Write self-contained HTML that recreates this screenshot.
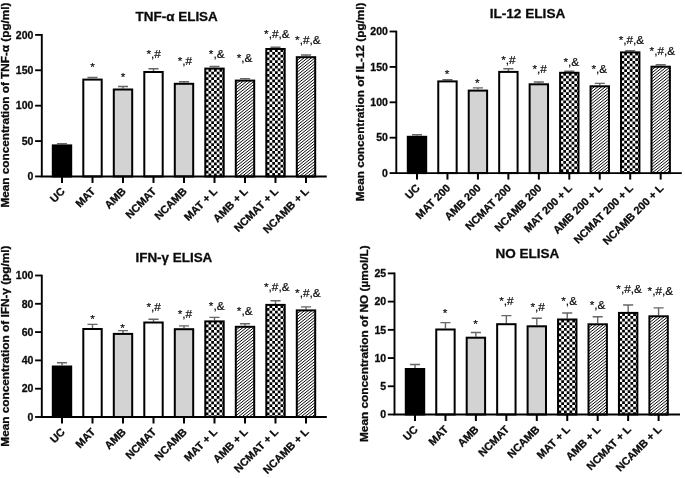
<!DOCTYPE html>
<html><head><meta charset="utf-8"><title>ELISA</title>
<style>
html,body{margin:0;padding:0;background:#fff;}
svg{display:block;font-family:"Liberation Sans",sans-serif;will-change:transform;}
text{fill:#0a0a0a;}
text[font-weight=bold]{stroke:#111;stroke-width:0.3px;}
</style></head><body>
<svg width="685" height="478" viewBox="0 0 685 478">

<rect width="685" height="478" fill="#fff"/>

<g>
<text x="176.7" y="21.3" font-size="13.6" font-weight="bold" text-anchor="middle" textLength="82.2" lengthAdjust="spacingAndGlyphs">TNF-α ELISA</text>
<text transform="translate(8.7,207.5) rotate(-90)" font-size="11" font-weight="bold" textLength="205" lengthAdjust="spacingAndGlyphs">Mean concentration of TNF-α (pg/ml)</text>
<path d="M62.00,144.40 V143.40 M56.95,143.60 H67.05" stroke="#666" stroke-width="1.4" fill="none"/>
<g transform="translate(51.80,144.40)"><rect x="1.00" y="1.00" width="18.40" height="31.05" fill="#000" stroke="#000" stroke-width="2.0"/></g>
<path d="M62.00,176.45 V182.95" stroke="#000" stroke-width="2"/>
<text transform="translate(65.50,192.05) rotate(-45)" font-size="10.85" font-weight="bold" text-anchor="end">UC</text>
<path d="M92.50,78.60 V77.30 M87.45,77.50 H97.55" stroke="#666" stroke-width="1.4" fill="none"/>
<g transform="translate(82.30,78.60)"><rect x="1.00" y="1.00" width="18.40" height="96.85" fill="#fff" stroke="#000" stroke-width="2.0"/></g>
<path d="M92.50,176.45 V182.95" stroke="#000" stroke-width="2"/>
<text transform="translate(96.00,192.05) rotate(-45)" font-size="10.85" font-weight="bold" text-anchor="end">MAT</text>
<text x="92.50" y="70.50" font-size="11.8" stroke="#111" stroke-width="0.2" text-anchor="middle">*</text>
<path d="M123.00,88.50 V86.30 M117.95,86.50 H128.05" stroke="#666" stroke-width="1.4" fill="none"/>
<g transform="translate(112.80,88.50)"><rect x="1.00" y="1.00" width="18.40" height="86.95" fill="#d3d3d3" stroke="#000" stroke-width="2.0"/></g>
<path d="M123.00,176.45 V182.95" stroke="#000" stroke-width="2"/>
<text transform="translate(126.50,192.05) rotate(-45)" font-size="10.85" font-weight="bold" text-anchor="end">AMB</text>
<text x="123.00" y="81.00" font-size="11.8" stroke="#111" stroke-width="0.2" text-anchor="middle">*</text>
<path d="M153.50,71.00 V68.50 M148.45,68.70 H158.55" stroke="#666" stroke-width="1.4" fill="none"/>
<g transform="translate(143.30,71.00)"><rect x="1.00" y="1.00" width="18.40" height="104.45" fill="#fff" stroke="#000" stroke-width="2.0"/></g>
<path d="M153.50,176.45 V182.95" stroke="#000" stroke-width="2"/>
<text transform="translate(157.00,192.05) rotate(-45)" font-size="10.85" font-weight="bold" text-anchor="end">NCMAT</text>
<text x="153.70" y="58.10" font-size="11.8" stroke="#111" stroke-width="0.2" text-anchor="middle">*,#</text>
<path d="M184.00,82.80 V81.50 M178.95,81.70 H189.05" stroke="#666" stroke-width="1.4" fill="none"/>
<g transform="translate(173.80,82.80)"><rect x="1.00" y="1.00" width="18.40" height="92.65" fill="#d3d3d3" stroke="#000" stroke-width="2.0"/></g>
<path d="M184.00,176.45 V182.95" stroke="#000" stroke-width="2"/>
<text transform="translate(187.50,192.05) rotate(-45)" font-size="10.85" font-weight="bold" text-anchor="end">NCAMB</text>
<text x="184.90" y="64.70" font-size="11.8" stroke="#111" stroke-width="0.2" text-anchor="middle">*,#</text>
<path d="M214.50,67.60 V66.25 M209.45,66.45 H219.55" stroke="#666" stroke-width="1.4" fill="none"/>
<g transform="translate(204.30,67.60)"><clipPath id="c0_5"><rect x="1.00" y="1.00" width="18.40" height="108.85"/></clipPath><rect x="1.00" y="1.00" width="18.40" height="107.85" fill="#fff"/><path d="M0.075,-4.200 V108.85" stroke="#000" stroke-width="2.75" stroke-dasharray="2.75 2.75" clip-path="url(#c0_5)"/><path d="M2.825,-1.450 V108.85" stroke="#000" stroke-width="2.75" stroke-dasharray="2.75 2.75" clip-path="url(#c0_5)"/><path d="M5.575,-4.200 V108.85" stroke="#000" stroke-width="2.75" stroke-dasharray="2.75 2.75" clip-path="url(#c0_5)"/><path d="M8.325,-1.450 V108.85" stroke="#000" stroke-width="2.75" stroke-dasharray="2.75 2.75" clip-path="url(#c0_5)"/><path d="M11.075,-4.200 V108.85" stroke="#000" stroke-width="2.75" stroke-dasharray="2.75 2.75" clip-path="url(#c0_5)"/><path d="M13.825,-1.450 V108.85" stroke="#000" stroke-width="2.75" stroke-dasharray="2.75 2.75" clip-path="url(#c0_5)"/><path d="M16.575,-4.200 V108.85" stroke="#000" stroke-width="2.75" stroke-dasharray="2.75 2.75" clip-path="url(#c0_5)"/><path d="M19.325,-1.450 V108.85" stroke="#000" stroke-width="2.75" stroke-dasharray="2.75 2.75" clip-path="url(#c0_5)"/><rect x="1.00" y="1.00" width="18.40" height="107.85" fill="none" stroke="#000" stroke-width="2.0"/></g>
<path d="M214.50,176.45 V182.95" stroke="#000" stroke-width="2"/>
<text transform="translate(218.00,192.05) rotate(-45)" font-size="10.85" font-weight="bold" text-anchor="end">MAT + L</text>
<text x="216.70" y="57.50" font-size="11.8" stroke="#111" stroke-width="0.2" text-anchor="middle">*,&</text>
<path d="M245.00,79.60 V78.40 M239.95,78.60 H250.05" stroke="#666" stroke-width="1.4" fill="none"/>
<g transform="translate(234.80,79.60)"><clipPath id="c0_6"><rect x="1.00" y="1.00" width="18.40" height="96.85"/></clipPath><rect x="1.00" y="1.00" width="18.40" height="95.85" fill="#fff"/><path d="M-1,0.18 L21.40,-17.74 M-1,3.13 L21.40,-14.79 M-1,6.08 L21.40,-11.84 M-1,9.03 L21.40,-8.89 M-1,11.98 L21.40,-5.94 M-1,14.93 L21.40,-2.99 M-1,17.88 L21.40,-0.04 M-1,20.83 L21.40,2.91 M-1,23.78 L21.40,5.86 M-1,26.73 L21.40,8.81 M-1,29.68 L21.40,11.76 M-1,32.63 L21.40,14.71 M-1,35.58 L21.40,17.66 M-1,38.53 L21.40,20.61 M-1,41.48 L21.40,23.56 M-1,44.43 L21.40,26.51 M-1,47.38 L21.40,29.46 M-1,50.33 L21.40,32.41 M-1,53.28 L21.40,35.36 M-1,56.23 L21.40,38.31 M-1,59.18 L21.40,41.26 M-1,62.13 L21.40,44.21 M-1,65.08 L21.40,47.16 M-1,68.03 L21.40,50.11 M-1,70.98 L21.40,53.06 M-1,73.93 L21.40,56.01 M-1,76.88 L21.40,58.96 M-1,79.83 L21.40,61.91 M-1,82.78 L21.40,64.86 M-1,85.73 L21.40,67.81 M-1,88.68 L21.40,70.76 M-1,91.63 L21.40,73.71 M-1,94.58 L21.40,76.66 M-1,97.53 L21.40,79.61 M-1,100.48 L21.40,82.56 M-1,103.43 L21.40,85.51 M-1,106.38 L21.40,88.46 M-1,109.33 L21.40,91.41 M-1,112.28 L21.40,94.36 M-1,115.23 L21.40,97.31" stroke="#000" stroke-width="0.97" fill="none" clip-path="url(#c0_6)"/><rect x="1.00" y="1.00" width="18.40" height="95.85" fill="none" stroke="#000" stroke-width="2.0"/></g>
<path d="M245.00,176.45 V182.95" stroke="#000" stroke-width="2"/>
<text transform="translate(248.50,192.05) rotate(-45)" font-size="10.85" font-weight="bold" text-anchor="end">AMB + L</text>
<text x="244.50" y="61.50" font-size="11.8" stroke="#111" stroke-width="0.2" text-anchor="middle">*,&</text>
<path d="M275.50,48.00 V47.00 M270.45,47.20 H280.55" stroke="#666" stroke-width="1.4" fill="none"/>
<g transform="translate(265.30,48.00)"><clipPath id="c0_7"><rect x="1.00" y="1.00" width="18.40" height="128.45"/></clipPath><rect x="1.00" y="1.00" width="18.40" height="127.45" fill="#fff"/><path d="M0.075,-4.200 V128.45" stroke="#000" stroke-width="2.75" stroke-dasharray="2.75 2.75" clip-path="url(#c0_7)"/><path d="M2.825,-1.450 V128.45" stroke="#000" stroke-width="2.75" stroke-dasharray="2.75 2.75" clip-path="url(#c0_7)"/><path d="M5.575,-4.200 V128.45" stroke="#000" stroke-width="2.75" stroke-dasharray="2.75 2.75" clip-path="url(#c0_7)"/><path d="M8.325,-1.450 V128.45" stroke="#000" stroke-width="2.75" stroke-dasharray="2.75 2.75" clip-path="url(#c0_7)"/><path d="M11.075,-4.200 V128.45" stroke="#000" stroke-width="2.75" stroke-dasharray="2.75 2.75" clip-path="url(#c0_7)"/><path d="M13.825,-1.450 V128.45" stroke="#000" stroke-width="2.75" stroke-dasharray="2.75 2.75" clip-path="url(#c0_7)"/><path d="M16.575,-4.200 V128.45" stroke="#000" stroke-width="2.75" stroke-dasharray="2.75 2.75" clip-path="url(#c0_7)"/><path d="M19.325,-1.450 V128.45" stroke="#000" stroke-width="2.75" stroke-dasharray="2.75 2.75" clip-path="url(#c0_7)"/><rect x="1.00" y="1.00" width="18.40" height="127.45" fill="none" stroke="#000" stroke-width="2.0"/></g>
<path d="M275.50,176.45 V182.95" stroke="#000" stroke-width="2"/>
<text transform="translate(279.00,192.05) rotate(-45)" font-size="10.85" font-weight="bold" text-anchor="end">NCMAT + L</text>
<text x="276.90" y="37.50" font-size="11.8" stroke="#111" stroke-width="0.2" text-anchor="middle">*,#,&</text>
<path d="M306.00,56.20 V54.80 M300.95,55.00 H311.05" stroke="#666" stroke-width="1.4" fill="none"/>
<g transform="translate(295.80,56.20)"><clipPath id="c0_8"><rect x="1.00" y="1.00" width="18.40" height="120.25"/></clipPath><rect x="1.00" y="1.00" width="18.40" height="119.25" fill="#fff"/><path d="M-1,0.18 L21.40,-17.74 M-1,3.13 L21.40,-14.79 M-1,6.08 L21.40,-11.84 M-1,9.03 L21.40,-8.89 M-1,11.98 L21.40,-5.94 M-1,14.93 L21.40,-2.99 M-1,17.88 L21.40,-0.04 M-1,20.83 L21.40,2.91 M-1,23.78 L21.40,5.86 M-1,26.73 L21.40,8.81 M-1,29.68 L21.40,11.76 M-1,32.63 L21.40,14.71 M-1,35.58 L21.40,17.66 M-1,38.53 L21.40,20.61 M-1,41.48 L21.40,23.56 M-1,44.43 L21.40,26.51 M-1,47.38 L21.40,29.46 M-1,50.33 L21.40,32.41 M-1,53.28 L21.40,35.36 M-1,56.23 L21.40,38.31 M-1,59.18 L21.40,41.26 M-1,62.13 L21.40,44.21 M-1,65.08 L21.40,47.16 M-1,68.03 L21.40,50.11 M-1,70.98 L21.40,53.06 M-1,73.93 L21.40,56.01 M-1,76.88 L21.40,58.96 M-1,79.83 L21.40,61.91 M-1,82.78 L21.40,64.86 M-1,85.73 L21.40,67.81 M-1,88.68 L21.40,70.76 M-1,91.63 L21.40,73.71 M-1,94.58 L21.40,76.66 M-1,97.53 L21.40,79.61 M-1,100.48 L21.40,82.56 M-1,103.43 L21.40,85.51 M-1,106.38 L21.40,88.46 M-1,109.33 L21.40,91.41 M-1,112.28 L21.40,94.36 M-1,115.23 L21.40,97.31 M-1,118.18 L21.40,100.26 M-1,121.13 L21.40,103.21 M-1,124.08 L21.40,106.16 M-1,127.03 L21.40,109.11 M-1,129.98 L21.40,112.06 M-1,132.93 L21.40,115.01 M-1,135.88 L21.40,117.96 M-1,138.83 L21.40,120.91" stroke="#000" stroke-width="0.97" fill="none" clip-path="url(#c0_8)"/><rect x="1.00" y="1.00" width="18.40" height="119.25" fill="none" stroke="#000" stroke-width="2.0"/></g>
<path d="M306.00,176.45 V182.95" stroke="#000" stroke-width="2"/>
<text transform="translate(309.50,192.05) rotate(-45)" font-size="10.85" font-weight="bold" text-anchor="end">NCAMB + L</text>
<text x="307.90" y="44.40" font-size="11.8" stroke="#111" stroke-width="0.2" text-anchor="middle">*,#,&</text>
<path d="M41.8,34.09 V176.45 H326.8" stroke="#000" stroke-width="1.9" fill="none" stroke-linejoin="miter"/>
<path d="M35.10,176.45 H41.8" stroke="#000" stroke-width="1.85"/>
<text x="33.40" y="180.21" font-size="10.5" font-weight="bold" text-anchor="end">0</text>
<path d="M35.10,141.06 H41.8" stroke="#000" stroke-width="1.85"/>
<text x="33.40" y="144.82" font-size="10.5" font-weight="bold" text-anchor="end">50</text>
<path d="M35.10,105.67 H41.8" stroke="#000" stroke-width="1.85"/>
<text x="33.40" y="109.43" font-size="10.5" font-weight="bold" text-anchor="end">100</text>
<path d="M35.10,70.28 H41.8" stroke="#000" stroke-width="1.85"/>
<text x="33.40" y="74.04" font-size="10.5" font-weight="bold" text-anchor="end">150</text>
<path d="M35.10,34.89 H41.8" stroke="#000" stroke-width="1.85"/>
<text x="33.40" y="38.65" font-size="10.5" font-weight="bold" text-anchor="end">200</text>
</g>
<g>
<text x="527.5" y="17.9" font-size="13.6" font-weight="bold" text-anchor="middle" textLength="75.6" lengthAdjust="spacingAndGlyphs">IL-12 ELISA</text>
<text transform="translate(363.7,201.2) rotate(-90)" font-size="11" font-weight="bold" textLength="198.7" lengthAdjust="spacingAndGlyphs">Mean concentration of IL-12 (pg/ml)</text>
<path d="M417.00,135.80 V134.60 M411.95,134.80 H422.05" stroke="#666" stroke-width="1.4" fill="none"/>
<g transform="translate(406.80,135.80)"><rect x="1.00" y="1.00" width="18.40" height="36.30" fill="#000" stroke="#000" stroke-width="2.0"/></g>
<path d="M417.00,173.10 V179.60" stroke="#000" stroke-width="2"/>
<text transform="translate(420.50,188.70) rotate(-45)" font-size="10.85" font-weight="bold" text-anchor="end">UC</text>
<path d="M447.46,80.40 V79.50 M442.41,79.70 H452.51" stroke="#666" stroke-width="1.4" fill="none"/>
<g transform="translate(437.26,80.40)"><rect x="1.00" y="1.00" width="18.40" height="91.70" fill="#fff" stroke="#000" stroke-width="2.0"/></g>
<path d="M447.46,173.10 V179.60" stroke="#000" stroke-width="2"/>
<text transform="translate(450.96,188.70) rotate(-45)" font-size="10.85" font-weight="bold" text-anchor="end">MAT 200</text>
<text x="447.06" y="78.30" font-size="11.8" stroke="#111" stroke-width="0.2" text-anchor="middle">*</text>
<path d="M477.92,89.60 V87.70 M472.87,87.90 H482.97" stroke="#666" stroke-width="1.4" fill="none"/>
<g transform="translate(467.72,89.60)"><rect x="1.00" y="1.00" width="18.40" height="82.50" fill="#d3d3d3" stroke="#000" stroke-width="2.0"/></g>
<path d="M477.92,173.10 V179.60" stroke="#000" stroke-width="2"/>
<text transform="translate(481.42,188.70) rotate(-45)" font-size="10.85" font-weight="bold" text-anchor="end">AMB 200</text>
<text x="477.22" y="86.50" font-size="11.8" stroke="#111" stroke-width="0.2" text-anchor="middle">*</text>
<path d="M508.38,70.90 V68.60 M503.33,68.80 H513.43" stroke="#666" stroke-width="1.4" fill="none"/>
<g transform="translate(498.18,70.90)"><rect x="1.00" y="1.00" width="18.40" height="101.20" fill="#fff" stroke="#000" stroke-width="2.0"/></g>
<path d="M508.38,173.10 V179.60" stroke="#000" stroke-width="2"/>
<text transform="translate(511.88,188.70) rotate(-45)" font-size="10.85" font-weight="bold" text-anchor="end">NCMAT 200</text>
<text x="508.48" y="63.90" font-size="11.8" stroke="#111" stroke-width="0.2" text-anchor="middle">*,#</text>
<path d="M538.84,83.30 V81.80 M533.79,82.00 H543.89" stroke="#666" stroke-width="1.4" fill="none"/>
<g transform="translate(528.64,83.30)"><rect x="1.00" y="1.00" width="18.40" height="88.80" fill="#d3d3d3" stroke="#000" stroke-width="2.0"/></g>
<path d="M538.84,173.10 V179.60" stroke="#000" stroke-width="2"/>
<text transform="translate(542.34,188.70) rotate(-45)" font-size="10.85" font-weight="bold" text-anchor="end">NCAMB 200</text>
<text x="539.64" y="72.80" font-size="11.8" stroke="#111" stroke-width="0.2" text-anchor="middle">*,#</text>
<path d="M569.30,71.80 V71.00 M564.25,71.20 H574.35" stroke="#666" stroke-width="1.4" fill="none"/>
<g transform="translate(559.10,71.80)"><clipPath id="c1_5"><rect x="1.00" y="1.00" width="18.40" height="101.30"/></clipPath><rect x="1.00" y="1.00" width="18.40" height="100.30" fill="#fff"/><path d="M0.075,-4.200 V101.30" stroke="#000" stroke-width="2.75" stroke-dasharray="2.75 2.75" clip-path="url(#c1_5)"/><path d="M2.825,-1.450 V101.30" stroke="#000" stroke-width="2.75" stroke-dasharray="2.75 2.75" clip-path="url(#c1_5)"/><path d="M5.575,-4.200 V101.30" stroke="#000" stroke-width="2.75" stroke-dasharray="2.75 2.75" clip-path="url(#c1_5)"/><path d="M8.325,-1.450 V101.30" stroke="#000" stroke-width="2.75" stroke-dasharray="2.75 2.75" clip-path="url(#c1_5)"/><path d="M11.075,-4.200 V101.30" stroke="#000" stroke-width="2.75" stroke-dasharray="2.75 2.75" clip-path="url(#c1_5)"/><path d="M13.825,-1.450 V101.30" stroke="#000" stroke-width="2.75" stroke-dasharray="2.75 2.75" clip-path="url(#c1_5)"/><path d="M16.575,-4.200 V101.30" stroke="#000" stroke-width="2.75" stroke-dasharray="2.75 2.75" clip-path="url(#c1_5)"/><path d="M19.325,-1.450 V101.30" stroke="#000" stroke-width="2.75" stroke-dasharray="2.75 2.75" clip-path="url(#c1_5)"/><rect x="1.00" y="1.00" width="18.40" height="100.30" fill="none" stroke="#000" stroke-width="2.0"/></g>
<path d="M569.30,173.10 V179.60" stroke="#000" stroke-width="2"/>
<text transform="translate(572.80,188.70) rotate(-45)" font-size="10.85" font-weight="bold" text-anchor="end">MAT 200 + L</text>
<text x="571.30" y="65.70" font-size="11.8" stroke="#111" stroke-width="0.2" text-anchor="middle">*,&</text>
<path d="M599.76,85.30 V83.20 M594.71,83.40 H604.81" stroke="#666" stroke-width="1.4" fill="none"/>
<g transform="translate(589.56,85.30)"><clipPath id="c1_6"><rect x="1.00" y="1.00" width="18.40" height="87.80"/></clipPath><rect x="1.00" y="1.00" width="18.40" height="86.80" fill="#fff"/><path d="M-1,0.18 L21.40,-17.74 M-1,3.13 L21.40,-14.79 M-1,6.08 L21.40,-11.84 M-1,9.03 L21.40,-8.89 M-1,11.98 L21.40,-5.94 M-1,14.93 L21.40,-2.99 M-1,17.88 L21.40,-0.04 M-1,20.83 L21.40,2.91 M-1,23.78 L21.40,5.86 M-1,26.73 L21.40,8.81 M-1,29.68 L21.40,11.76 M-1,32.63 L21.40,14.71 M-1,35.58 L21.40,17.66 M-1,38.53 L21.40,20.61 M-1,41.48 L21.40,23.56 M-1,44.43 L21.40,26.51 M-1,47.38 L21.40,29.46 M-1,50.33 L21.40,32.41 M-1,53.28 L21.40,35.36 M-1,56.23 L21.40,38.31 M-1,59.18 L21.40,41.26 M-1,62.13 L21.40,44.21 M-1,65.08 L21.40,47.16 M-1,68.03 L21.40,50.11 M-1,70.98 L21.40,53.06 M-1,73.93 L21.40,56.01 M-1,76.88 L21.40,58.96 M-1,79.83 L21.40,61.91 M-1,82.78 L21.40,64.86 M-1,85.73 L21.40,67.81 M-1,88.68 L21.40,70.76 M-1,91.63 L21.40,73.71 M-1,94.58 L21.40,76.66 M-1,97.53 L21.40,79.61 M-1,100.48 L21.40,82.56 M-1,103.43 L21.40,85.51 M-1,106.38 L21.40,88.46" stroke="#000" stroke-width="0.97" fill="none" clip-path="url(#c1_6)"/><rect x="1.00" y="1.00" width="18.40" height="86.80" fill="none" stroke="#000" stroke-width="2.0"/></g>
<path d="M599.76,173.10 V179.60" stroke="#000" stroke-width="2"/>
<text transform="translate(603.26,188.70) rotate(-45)" font-size="10.85" font-weight="bold" text-anchor="end">AMB 200 + L</text>
<text x="599.36" y="73.30" font-size="11.8" stroke="#111" stroke-width="0.2" text-anchor="middle">*,&</text>
<path d="M630.22,51.40 V50.50 M625.17,50.70 H635.27" stroke="#666" stroke-width="1.4" fill="none"/>
<g transform="translate(620.02,51.40)"><clipPath id="c1_7"><rect x="1.00" y="1.00" width="18.40" height="121.70"/></clipPath><rect x="1.00" y="1.00" width="18.40" height="120.70" fill="#fff"/><path d="M0.075,-4.200 V121.70" stroke="#000" stroke-width="2.75" stroke-dasharray="2.75 2.75" clip-path="url(#c1_7)"/><path d="M2.825,-1.450 V121.70" stroke="#000" stroke-width="2.75" stroke-dasharray="2.75 2.75" clip-path="url(#c1_7)"/><path d="M5.575,-4.200 V121.70" stroke="#000" stroke-width="2.75" stroke-dasharray="2.75 2.75" clip-path="url(#c1_7)"/><path d="M8.325,-1.450 V121.70" stroke="#000" stroke-width="2.75" stroke-dasharray="2.75 2.75" clip-path="url(#c1_7)"/><path d="M11.075,-4.200 V121.70" stroke="#000" stroke-width="2.75" stroke-dasharray="2.75 2.75" clip-path="url(#c1_7)"/><path d="M13.825,-1.450 V121.70" stroke="#000" stroke-width="2.75" stroke-dasharray="2.75 2.75" clip-path="url(#c1_7)"/><path d="M16.575,-4.200 V121.70" stroke="#000" stroke-width="2.75" stroke-dasharray="2.75 2.75" clip-path="url(#c1_7)"/><path d="M19.325,-1.450 V121.70" stroke="#000" stroke-width="2.75" stroke-dasharray="2.75 2.75" clip-path="url(#c1_7)"/><rect x="1.00" y="1.00" width="18.40" height="120.70" fill="none" stroke="#000" stroke-width="2.0"/></g>
<path d="M630.22,173.10 V179.60" stroke="#000" stroke-width="2"/>
<text transform="translate(633.72,188.70) rotate(-45)" font-size="10.85" font-weight="bold" text-anchor="end">NCMAT 200 + L</text>
<text x="631.42" y="44.20" font-size="11.8" stroke="#111" stroke-width="0.2" text-anchor="middle">*,#,&</text>
<path d="M660.68,65.70 V64.50 M655.63,64.70 H665.73" stroke="#666" stroke-width="1.4" fill="none"/>
<g transform="translate(650.48,65.70)"><clipPath id="c1_8"><rect x="1.00" y="1.00" width="18.40" height="107.40"/></clipPath><rect x="1.00" y="1.00" width="18.40" height="106.40" fill="#fff"/><path d="M-1,0.18 L21.40,-17.74 M-1,3.13 L21.40,-14.79 M-1,6.08 L21.40,-11.84 M-1,9.03 L21.40,-8.89 M-1,11.98 L21.40,-5.94 M-1,14.93 L21.40,-2.99 M-1,17.88 L21.40,-0.04 M-1,20.83 L21.40,2.91 M-1,23.78 L21.40,5.86 M-1,26.73 L21.40,8.81 M-1,29.68 L21.40,11.76 M-1,32.63 L21.40,14.71 M-1,35.58 L21.40,17.66 M-1,38.53 L21.40,20.61 M-1,41.48 L21.40,23.56 M-1,44.43 L21.40,26.51 M-1,47.38 L21.40,29.46 M-1,50.33 L21.40,32.41 M-1,53.28 L21.40,35.36 M-1,56.23 L21.40,38.31 M-1,59.18 L21.40,41.26 M-1,62.13 L21.40,44.21 M-1,65.08 L21.40,47.16 M-1,68.03 L21.40,50.11 M-1,70.98 L21.40,53.06 M-1,73.93 L21.40,56.01 M-1,76.88 L21.40,58.96 M-1,79.83 L21.40,61.91 M-1,82.78 L21.40,64.86 M-1,85.73 L21.40,67.81 M-1,88.68 L21.40,70.76 M-1,91.63 L21.40,73.71 M-1,94.58 L21.40,76.66 M-1,97.53 L21.40,79.61 M-1,100.48 L21.40,82.56 M-1,103.43 L21.40,85.51 M-1,106.38 L21.40,88.46 M-1,109.33 L21.40,91.41 M-1,112.28 L21.40,94.36 M-1,115.23 L21.40,97.31 M-1,118.18 L21.40,100.26 M-1,121.13 L21.40,103.21 M-1,124.08 L21.40,106.16 M-1,127.03 L21.40,109.11" stroke="#000" stroke-width="0.97" fill="none" clip-path="url(#c1_8)"/><rect x="1.00" y="1.00" width="18.40" height="106.40" fill="none" stroke="#000" stroke-width="2.0"/></g>
<path d="M660.68,173.10 V179.60" stroke="#000" stroke-width="2"/>
<text transform="translate(664.18,188.70) rotate(-45)" font-size="10.85" font-weight="bold" text-anchor="end">NCAMB 200 + L</text>
<text x="662.38" y="54.80" font-size="11.8" stroke="#111" stroke-width="0.2" text-anchor="middle">*,#,&</text>
<path d="M396.3,30.70 V173.10 H681.8" stroke="#000" stroke-width="1.9" fill="none" stroke-linejoin="miter"/>
<path d="M389.60,173.10 H396.3" stroke="#000" stroke-width="1.85"/>
<text x="387.90" y="176.86" font-size="10.5" font-weight="bold" text-anchor="end">0</text>
<path d="M389.60,137.70 H396.3" stroke="#000" stroke-width="1.85"/>
<text x="387.90" y="141.46" font-size="10.5" font-weight="bold" text-anchor="end">50</text>
<path d="M389.60,102.30 H396.3" stroke="#000" stroke-width="1.85"/>
<text x="387.90" y="106.06" font-size="10.5" font-weight="bold" text-anchor="end">100</text>
<path d="M389.60,66.90 H396.3" stroke="#000" stroke-width="1.85"/>
<text x="387.90" y="70.66" font-size="10.5" font-weight="bold" text-anchor="end">150</text>
<path d="M389.60,31.50 H396.3" stroke="#000" stroke-width="1.85"/>
<text x="387.90" y="35.26" font-size="10.5" font-weight="bold" text-anchor="end">200</text>
</g>
<g>
<text x="173.9" y="262.1" font-size="13.6" font-weight="bold" text-anchor="middle" textLength="76.8" lengthAdjust="spacingAndGlyphs">IFN-γ ELISA</text>
<text transform="translate(8.7,446.7) rotate(-90)" font-size="11" font-weight="bold" textLength="201.2" lengthAdjust="spacingAndGlyphs">Mean concentration of IFN-γ (pg/ml)</text>
<path d="M62.00,365.50 V362.50 M56.95,362.70 H67.05" stroke="#666" stroke-width="1.4" fill="none"/>
<g transform="translate(51.80,365.50)"><rect x="1.00" y="1.00" width="18.40" height="50.50" fill="#000" stroke="#000" stroke-width="2.0"/></g>
<path d="M62.00,417.00 V423.50" stroke="#000" stroke-width="2"/>
<text transform="translate(65.50,432.60) rotate(-45)" font-size="10.85" font-weight="bold" text-anchor="end">UC</text>
<path d="M92.50,328.00 V324.20 M87.45,324.40 H97.55" stroke="#666" stroke-width="1.4" fill="none"/>
<g transform="translate(82.30,328.00)"><rect x="1.00" y="1.00" width="18.40" height="88.00" fill="#fff" stroke="#000" stroke-width="2.0"/></g>
<path d="M92.50,417.00 V423.50" stroke="#000" stroke-width="2"/>
<text transform="translate(96.00,432.60) rotate(-45)" font-size="10.85" font-weight="bold" text-anchor="end">MAT</text>
<text x="92.50" y="323.00" font-size="11.8" stroke="#111" stroke-width="0.2" text-anchor="middle">*</text>
<path d="M123.00,332.90 V330.40 M117.95,330.60 H128.05" stroke="#666" stroke-width="1.4" fill="none"/>
<g transform="translate(112.80,332.90)"><rect x="1.00" y="1.00" width="18.40" height="83.10" fill="#d3d3d3" stroke="#000" stroke-width="2.0"/></g>
<path d="M123.00,417.00 V423.50" stroke="#000" stroke-width="2"/>
<text transform="translate(126.50,432.60) rotate(-45)" font-size="10.85" font-weight="bold" text-anchor="end">AMB</text>
<text x="122.60" y="331.80" font-size="11.8" stroke="#111" stroke-width="0.2" text-anchor="middle">*</text>
<path d="M153.50,321.50 V319.00 M148.45,319.20 H158.55" stroke="#666" stroke-width="1.4" fill="none"/>
<g transform="translate(143.30,321.50)"><rect x="1.00" y="1.00" width="18.40" height="94.50" fill="#fff" stroke="#000" stroke-width="2.0"/></g>
<path d="M153.50,417.00 V423.50" stroke="#000" stroke-width="2"/>
<text transform="translate(157.00,432.60) rotate(-45)" font-size="10.85" font-weight="bold" text-anchor="end">NCMAT</text>
<text x="153.70" y="310.50" font-size="11.8" stroke="#111" stroke-width="0.2" text-anchor="middle">*,#</text>
<path d="M184.00,328.20 V325.70 M178.95,325.90 H189.05" stroke="#666" stroke-width="1.4" fill="none"/>
<g transform="translate(173.80,328.20)"><rect x="1.00" y="1.00" width="18.40" height="87.80" fill="#d3d3d3" stroke="#000" stroke-width="2.0"/></g>
<path d="M184.00,417.00 V423.50" stroke="#000" stroke-width="2"/>
<text transform="translate(187.50,432.60) rotate(-45)" font-size="10.85" font-weight="bold" text-anchor="end">NCAMB</text>
<text x="184.90" y="317.50" font-size="11.8" stroke="#111" stroke-width="0.2" text-anchor="middle">*,#</text>
<path d="M214.50,320.40 V317.20 M209.45,317.40 H219.55" stroke="#666" stroke-width="1.4" fill="none"/>
<g transform="translate(204.30,320.40)"><clipPath id="c2_5"><rect x="1.00" y="1.00" width="18.40" height="96.60"/></clipPath><rect x="1.00" y="1.00" width="18.40" height="95.60" fill="#fff"/><path d="M0.075,-4.200 V96.60" stroke="#000" stroke-width="2.75" stroke-dasharray="2.75 2.75" clip-path="url(#c2_5)"/><path d="M2.825,-1.450 V96.60" stroke="#000" stroke-width="2.75" stroke-dasharray="2.75 2.75" clip-path="url(#c2_5)"/><path d="M5.575,-4.200 V96.60" stroke="#000" stroke-width="2.75" stroke-dasharray="2.75 2.75" clip-path="url(#c2_5)"/><path d="M8.325,-1.450 V96.60" stroke="#000" stroke-width="2.75" stroke-dasharray="2.75 2.75" clip-path="url(#c2_5)"/><path d="M11.075,-4.200 V96.60" stroke="#000" stroke-width="2.75" stroke-dasharray="2.75 2.75" clip-path="url(#c2_5)"/><path d="M13.825,-1.450 V96.60" stroke="#000" stroke-width="2.75" stroke-dasharray="2.75 2.75" clip-path="url(#c2_5)"/><path d="M16.575,-4.200 V96.60" stroke="#000" stroke-width="2.75" stroke-dasharray="2.75 2.75" clip-path="url(#c2_5)"/><path d="M19.325,-1.450 V96.60" stroke="#000" stroke-width="2.75" stroke-dasharray="2.75 2.75" clip-path="url(#c2_5)"/><rect x="1.00" y="1.00" width="18.40" height="95.60" fill="none" stroke="#000" stroke-width="2.0"/></g>
<path d="M214.50,417.00 V423.50" stroke="#000" stroke-width="2"/>
<text transform="translate(218.00,432.60) rotate(-45)" font-size="10.85" font-weight="bold" text-anchor="end">MAT + L</text>
<text x="216.70" y="310.00" font-size="11.8" stroke="#111" stroke-width="0.2" text-anchor="middle">*,&</text>
<path d="M245.00,325.80 V323.50 M239.95,323.70 H250.05" stroke="#666" stroke-width="1.4" fill="none"/>
<g transform="translate(234.80,325.80)"><clipPath id="c2_6"><rect x="1.00" y="1.00" width="18.40" height="91.20"/></clipPath><rect x="1.00" y="1.00" width="18.40" height="90.20" fill="#fff"/><path d="M-1,0.18 L21.40,-17.74 M-1,3.13 L21.40,-14.79 M-1,6.08 L21.40,-11.84 M-1,9.03 L21.40,-8.89 M-1,11.98 L21.40,-5.94 M-1,14.93 L21.40,-2.99 M-1,17.88 L21.40,-0.04 M-1,20.83 L21.40,2.91 M-1,23.78 L21.40,5.86 M-1,26.73 L21.40,8.81 M-1,29.68 L21.40,11.76 M-1,32.63 L21.40,14.71 M-1,35.58 L21.40,17.66 M-1,38.53 L21.40,20.61 M-1,41.48 L21.40,23.56 M-1,44.43 L21.40,26.51 M-1,47.38 L21.40,29.46 M-1,50.33 L21.40,32.41 M-1,53.28 L21.40,35.36 M-1,56.23 L21.40,38.31 M-1,59.18 L21.40,41.26 M-1,62.13 L21.40,44.21 M-1,65.08 L21.40,47.16 M-1,68.03 L21.40,50.11 M-1,70.98 L21.40,53.06 M-1,73.93 L21.40,56.01 M-1,76.88 L21.40,58.96 M-1,79.83 L21.40,61.91 M-1,82.78 L21.40,64.86 M-1,85.73 L21.40,67.81 M-1,88.68 L21.40,70.76 M-1,91.63 L21.40,73.71 M-1,94.58 L21.40,76.66 M-1,97.53 L21.40,79.61 M-1,100.48 L21.40,82.56 M-1,103.43 L21.40,85.51 M-1,106.38 L21.40,88.46 M-1,109.33 L21.40,91.41" stroke="#000" stroke-width="0.97" fill="none" clip-path="url(#c2_6)"/><rect x="1.00" y="1.00" width="18.40" height="90.20" fill="none" stroke="#000" stroke-width="2.0"/></g>
<path d="M245.00,417.00 V423.50" stroke="#000" stroke-width="2"/>
<text transform="translate(248.50,432.60) rotate(-45)" font-size="10.85" font-weight="bold" text-anchor="end">AMB + L</text>
<text x="244.70" y="314.70" font-size="11.8" stroke="#111" stroke-width="0.2" text-anchor="middle">*,&</text>
<path d="M275.50,303.90 V300.50 M270.45,300.70 H280.55" stroke="#666" stroke-width="1.4" fill="none"/>
<g transform="translate(265.30,303.90)"><clipPath id="c2_7"><rect x="1.00" y="1.00" width="18.40" height="113.10"/></clipPath><rect x="1.00" y="1.00" width="18.40" height="112.10" fill="#fff"/><path d="M0.075,-4.200 V113.10" stroke="#000" stroke-width="2.75" stroke-dasharray="2.75 2.75" clip-path="url(#c2_7)"/><path d="M2.825,-1.450 V113.10" stroke="#000" stroke-width="2.75" stroke-dasharray="2.75 2.75" clip-path="url(#c2_7)"/><path d="M5.575,-4.200 V113.10" stroke="#000" stroke-width="2.75" stroke-dasharray="2.75 2.75" clip-path="url(#c2_7)"/><path d="M8.325,-1.450 V113.10" stroke="#000" stroke-width="2.75" stroke-dasharray="2.75 2.75" clip-path="url(#c2_7)"/><path d="M11.075,-4.200 V113.10" stroke="#000" stroke-width="2.75" stroke-dasharray="2.75 2.75" clip-path="url(#c2_7)"/><path d="M13.825,-1.450 V113.10" stroke="#000" stroke-width="2.75" stroke-dasharray="2.75 2.75" clip-path="url(#c2_7)"/><path d="M16.575,-4.200 V113.10" stroke="#000" stroke-width="2.75" stroke-dasharray="2.75 2.75" clip-path="url(#c2_7)"/><path d="M19.325,-1.450 V113.10" stroke="#000" stroke-width="2.75" stroke-dasharray="2.75 2.75" clip-path="url(#c2_7)"/><rect x="1.00" y="1.00" width="18.40" height="112.10" fill="none" stroke="#000" stroke-width="2.0"/></g>
<path d="M275.50,417.00 V423.50" stroke="#000" stroke-width="2"/>
<text transform="translate(279.00,432.60) rotate(-45)" font-size="10.85" font-weight="bold" text-anchor="end">NCMAT + L</text>
<text x="276.80" y="290.60" font-size="11.8" stroke="#111" stroke-width="0.2" text-anchor="middle">*,#,&</text>
<path d="M306.00,309.40 V306.70 M300.95,306.90 H311.05" stroke="#666" stroke-width="1.4" fill="none"/>
<g transform="translate(295.80,309.40)"><clipPath id="c2_8"><rect x="1.00" y="1.00" width="18.40" height="107.60"/></clipPath><rect x="1.00" y="1.00" width="18.40" height="106.60" fill="#fff"/><path d="M-1,0.18 L21.40,-17.74 M-1,3.13 L21.40,-14.79 M-1,6.08 L21.40,-11.84 M-1,9.03 L21.40,-8.89 M-1,11.98 L21.40,-5.94 M-1,14.93 L21.40,-2.99 M-1,17.88 L21.40,-0.04 M-1,20.83 L21.40,2.91 M-1,23.78 L21.40,5.86 M-1,26.73 L21.40,8.81 M-1,29.68 L21.40,11.76 M-1,32.63 L21.40,14.71 M-1,35.58 L21.40,17.66 M-1,38.53 L21.40,20.61 M-1,41.48 L21.40,23.56 M-1,44.43 L21.40,26.51 M-1,47.38 L21.40,29.46 M-1,50.33 L21.40,32.41 M-1,53.28 L21.40,35.36 M-1,56.23 L21.40,38.31 M-1,59.18 L21.40,41.26 M-1,62.13 L21.40,44.21 M-1,65.08 L21.40,47.16 M-1,68.03 L21.40,50.11 M-1,70.98 L21.40,53.06 M-1,73.93 L21.40,56.01 M-1,76.88 L21.40,58.96 M-1,79.83 L21.40,61.91 M-1,82.78 L21.40,64.86 M-1,85.73 L21.40,67.81 M-1,88.68 L21.40,70.76 M-1,91.63 L21.40,73.71 M-1,94.58 L21.40,76.66 M-1,97.53 L21.40,79.61 M-1,100.48 L21.40,82.56 M-1,103.43 L21.40,85.51 M-1,106.38 L21.40,88.46 M-1,109.33 L21.40,91.41 M-1,112.28 L21.40,94.36 M-1,115.23 L21.40,97.31 M-1,118.18 L21.40,100.26 M-1,121.13 L21.40,103.21 M-1,124.08 L21.40,106.16 M-1,127.03 L21.40,109.11" stroke="#000" stroke-width="0.97" fill="none" clip-path="url(#c2_8)"/><rect x="1.00" y="1.00" width="18.40" height="106.60" fill="none" stroke="#000" stroke-width="2.0"/></g>
<path d="M306.00,417.00 V423.50" stroke="#000" stroke-width="2"/>
<text transform="translate(309.50,432.60) rotate(-45)" font-size="10.85" font-weight="bold" text-anchor="end">NCAMB + L</text>
<text x="307.90" y="296.60" font-size="11.8" stroke="#111" stroke-width="0.2" text-anchor="middle">*,#,&</text>
<path d="M41.8,274.70 V417.00 H326.8" stroke="#000" stroke-width="1.9" fill="none" stroke-linejoin="miter"/>
<path d="M35.10,417.00 H41.8" stroke="#000" stroke-width="1.85"/>
<text x="33.40" y="420.76" font-size="10.5" font-weight="bold" text-anchor="end">0</text>
<path d="M35.10,388.70 H41.8" stroke="#000" stroke-width="1.85"/>
<text x="33.40" y="392.46" font-size="10.5" font-weight="bold" text-anchor="end">20</text>
<path d="M35.10,360.40 H41.8" stroke="#000" stroke-width="1.85"/>
<text x="33.40" y="364.16" font-size="10.5" font-weight="bold" text-anchor="end">40</text>
<path d="M35.10,332.10 H41.8" stroke="#000" stroke-width="1.85"/>
<text x="33.40" y="335.86" font-size="10.5" font-weight="bold" text-anchor="end">60</text>
<path d="M35.10,303.80 H41.8" stroke="#000" stroke-width="1.85"/>
<text x="33.40" y="307.56" font-size="10.5" font-weight="bold" text-anchor="end">80</text>
<path d="M35.10,275.50 H41.8" stroke="#000" stroke-width="1.85"/>
<text x="33.40" y="279.26" font-size="10.5" font-weight="bold" text-anchor="end">100</text>
</g>
<g>
<text x="527.4" y="257.9" font-size="13.6" font-weight="bold" text-anchor="middle" textLength="63.9" lengthAdjust="spacingAndGlyphs">NO ELISA</text>
<text transform="translate(368.4,442) rotate(-90)" font-size="11" font-weight="bold" textLength="196.7" lengthAdjust="spacingAndGlyphs">Mean concentration of NO (µmol/L)</text>
<path d="M415.00,368.00 V364.30 M409.95,364.50 H420.05" stroke="#666" stroke-width="1.4" fill="none"/>
<g transform="translate(404.80,368.00)"><rect x="1.00" y="1.00" width="18.40" height="45.50" fill="#000" stroke="#000" stroke-width="2.0"/></g>
<path d="M415.00,414.50 V421.00" stroke="#000" stroke-width="2"/>
<text transform="translate(418.50,430.10) rotate(-45)" font-size="10.85" font-weight="bold" text-anchor="end">UC</text>
<path d="M445.45,328.50 V322.40 M440.40,322.60 H450.50" stroke="#666" stroke-width="1.4" fill="none"/>
<g transform="translate(435.25,328.50)"><rect x="1.00" y="1.00" width="18.40" height="85.00" fill="#fff" stroke="#000" stroke-width="2.0"/></g>
<path d="M445.45,414.50 V421.00" stroke="#000" stroke-width="2"/>
<text transform="translate(448.95,430.10) rotate(-45)" font-size="10.85" font-weight="bold" text-anchor="end">MAT</text>
<text x="445.15" y="317.00" font-size="11.8" stroke="#111" stroke-width="0.2" text-anchor="middle">*</text>
<path d="M475.90,336.70 V332.30 M470.85,332.50 H480.95" stroke="#666" stroke-width="1.4" fill="none"/>
<g transform="translate(465.70,336.70)"><rect x="1.00" y="1.00" width="18.40" height="76.80" fill="#d3d3d3" stroke="#000" stroke-width="2.0"/></g>
<path d="M475.90,414.50 V421.00" stroke="#000" stroke-width="2"/>
<text transform="translate(479.40,430.10) rotate(-45)" font-size="10.85" font-weight="bold" text-anchor="end">AMB</text>
<text x="475.60" y="327.80" font-size="11.8" stroke="#111" stroke-width="0.2" text-anchor="middle">*</text>
<path d="M506.35,323.20 V315.40 M501.30,315.60 H511.40" stroke="#666" stroke-width="1.4" fill="none"/>
<g transform="translate(496.15,323.20)"><rect x="1.00" y="1.00" width="18.40" height="90.30" fill="#fff" stroke="#000" stroke-width="2.0"/></g>
<path d="M506.35,414.50 V421.00" stroke="#000" stroke-width="2"/>
<text transform="translate(509.85,430.10) rotate(-45)" font-size="10.85" font-weight="bold" text-anchor="end">NCMAT</text>
<text x="506.35" y="304.70" font-size="11.8" stroke="#111" stroke-width="0.2" text-anchor="middle">*,#</text>
<path d="M536.80,325.30 V318.10 M531.75,318.30 H541.85" stroke="#666" stroke-width="1.4" fill="none"/>
<g transform="translate(526.60,325.30)"><rect x="1.00" y="1.00" width="18.40" height="88.20" fill="#d3d3d3" stroke="#000" stroke-width="2.0"/></g>
<path d="M536.80,414.50 V421.00" stroke="#000" stroke-width="2"/>
<text transform="translate(540.30,430.10) rotate(-45)" font-size="10.85" font-weight="bold" text-anchor="end">NCAMB</text>
<text x="537.60" y="311.40" font-size="11.8" stroke="#111" stroke-width="0.2" text-anchor="middle">*,#</text>
<path d="M567.25,318.50 V312.80 M562.20,313.00 H572.30" stroke="#666" stroke-width="1.4" fill="none"/>
<g transform="translate(557.05,318.50)"><clipPath id="c3_5"><rect x="1.00" y="1.00" width="18.40" height="96.00"/></clipPath><rect x="1.00" y="1.00" width="18.40" height="95.00" fill="#fff"/><path d="M0.075,-4.200 V96.00" stroke="#000" stroke-width="2.75" stroke-dasharray="2.75 2.75" clip-path="url(#c3_5)"/><path d="M2.825,-1.450 V96.00" stroke="#000" stroke-width="2.75" stroke-dasharray="2.75 2.75" clip-path="url(#c3_5)"/><path d="M5.575,-4.200 V96.00" stroke="#000" stroke-width="2.75" stroke-dasharray="2.75 2.75" clip-path="url(#c3_5)"/><path d="M8.325,-1.450 V96.00" stroke="#000" stroke-width="2.75" stroke-dasharray="2.75 2.75" clip-path="url(#c3_5)"/><path d="M11.075,-4.200 V96.00" stroke="#000" stroke-width="2.75" stroke-dasharray="2.75 2.75" clip-path="url(#c3_5)"/><path d="M13.825,-1.450 V96.00" stroke="#000" stroke-width="2.75" stroke-dasharray="2.75 2.75" clip-path="url(#c3_5)"/><path d="M16.575,-4.200 V96.00" stroke="#000" stroke-width="2.75" stroke-dasharray="2.75 2.75" clip-path="url(#c3_5)"/><path d="M19.325,-1.450 V96.00" stroke="#000" stroke-width="2.75" stroke-dasharray="2.75 2.75" clip-path="url(#c3_5)"/><rect x="1.00" y="1.00" width="18.40" height="95.00" fill="none" stroke="#000" stroke-width="2.0"/></g>
<path d="M567.25,414.50 V421.00" stroke="#000" stroke-width="2"/>
<text transform="translate(570.75,430.10) rotate(-45)" font-size="10.85" font-weight="bold" text-anchor="end">MAT + L</text>
<text x="569.15" y="304.60" font-size="11.8" stroke="#111" stroke-width="0.2" text-anchor="middle">*,&</text>
<path d="M597.70,323.30 V316.60 M592.65,316.80 H602.75" stroke="#666" stroke-width="1.4" fill="none"/>
<g transform="translate(587.50,323.30)"><clipPath id="c3_6"><rect x="1.00" y="1.00" width="18.40" height="91.20"/></clipPath><rect x="1.00" y="1.00" width="18.40" height="90.20" fill="#fff"/><path d="M-1,0.18 L21.40,-17.74 M-1,3.13 L21.40,-14.79 M-1,6.08 L21.40,-11.84 M-1,9.03 L21.40,-8.89 M-1,11.98 L21.40,-5.94 M-1,14.93 L21.40,-2.99 M-1,17.88 L21.40,-0.04 M-1,20.83 L21.40,2.91 M-1,23.78 L21.40,5.86 M-1,26.73 L21.40,8.81 M-1,29.68 L21.40,11.76 M-1,32.63 L21.40,14.71 M-1,35.58 L21.40,17.66 M-1,38.53 L21.40,20.61 M-1,41.48 L21.40,23.56 M-1,44.43 L21.40,26.51 M-1,47.38 L21.40,29.46 M-1,50.33 L21.40,32.41 M-1,53.28 L21.40,35.36 M-1,56.23 L21.40,38.31 M-1,59.18 L21.40,41.26 M-1,62.13 L21.40,44.21 M-1,65.08 L21.40,47.16 M-1,68.03 L21.40,50.11 M-1,70.98 L21.40,53.06 M-1,73.93 L21.40,56.01 M-1,76.88 L21.40,58.96 M-1,79.83 L21.40,61.91 M-1,82.78 L21.40,64.86 M-1,85.73 L21.40,67.81 M-1,88.68 L21.40,70.76 M-1,91.63 L21.40,73.71 M-1,94.58 L21.40,76.66 M-1,97.53 L21.40,79.61 M-1,100.48 L21.40,82.56 M-1,103.43 L21.40,85.51 M-1,106.38 L21.40,88.46 M-1,109.33 L21.40,91.41" stroke="#000" stroke-width="0.97" fill="none" clip-path="url(#c3_6)"/><rect x="1.00" y="1.00" width="18.40" height="90.20" fill="none" stroke="#000" stroke-width="2.0"/></g>
<path d="M597.70,414.50 V421.00" stroke="#000" stroke-width="2"/>
<text transform="translate(601.20,430.10) rotate(-45)" font-size="10.85" font-weight="bold" text-anchor="end">AMB + L</text>
<text x="597.60" y="309.00" font-size="11.8" stroke="#111" stroke-width="0.2" text-anchor="middle">*,&</text>
<path d="M628.15,311.90 V304.80 M623.10,305.00 H633.20" stroke="#666" stroke-width="1.4" fill="none"/>
<g transform="translate(617.95,311.90)"><clipPath id="c3_7"><rect x="1.00" y="1.00" width="18.40" height="102.60"/></clipPath><rect x="1.00" y="1.00" width="18.40" height="101.60" fill="#fff"/><path d="M0.075,-4.200 V102.60" stroke="#000" stroke-width="2.75" stroke-dasharray="2.75 2.75" clip-path="url(#c3_7)"/><path d="M2.825,-1.450 V102.60" stroke="#000" stroke-width="2.75" stroke-dasharray="2.75 2.75" clip-path="url(#c3_7)"/><path d="M5.575,-4.200 V102.60" stroke="#000" stroke-width="2.75" stroke-dasharray="2.75 2.75" clip-path="url(#c3_7)"/><path d="M8.325,-1.450 V102.60" stroke="#000" stroke-width="2.75" stroke-dasharray="2.75 2.75" clip-path="url(#c3_7)"/><path d="M11.075,-4.200 V102.60" stroke="#000" stroke-width="2.75" stroke-dasharray="2.75 2.75" clip-path="url(#c3_7)"/><path d="M13.825,-1.450 V102.60" stroke="#000" stroke-width="2.75" stroke-dasharray="2.75 2.75" clip-path="url(#c3_7)"/><path d="M16.575,-4.200 V102.60" stroke="#000" stroke-width="2.75" stroke-dasharray="2.75 2.75" clip-path="url(#c3_7)"/><path d="M19.325,-1.450 V102.60" stroke="#000" stroke-width="2.75" stroke-dasharray="2.75 2.75" clip-path="url(#c3_7)"/><rect x="1.00" y="1.00" width="18.40" height="101.60" fill="none" stroke="#000" stroke-width="2.0"/></g>
<path d="M628.15,414.50 V421.00" stroke="#000" stroke-width="2"/>
<text transform="translate(631.65,430.10) rotate(-45)" font-size="10.85" font-weight="bold" text-anchor="end">NCMAT + L</text>
<text x="629.15" y="292.50" font-size="11.8" stroke="#111" stroke-width="0.2" text-anchor="middle">*,#,&</text>
<path d="M658.60,315.30 V307.70 M653.55,307.90 H663.65" stroke="#666" stroke-width="1.4" fill="none"/>
<g transform="translate(648.40,315.30)"><clipPath id="c3_8"><rect x="1.00" y="1.00" width="18.40" height="99.20"/></clipPath><rect x="1.00" y="1.00" width="18.40" height="98.20" fill="#fff"/><path d="M-1,0.18 L21.40,-17.74 M-1,3.13 L21.40,-14.79 M-1,6.08 L21.40,-11.84 M-1,9.03 L21.40,-8.89 M-1,11.98 L21.40,-5.94 M-1,14.93 L21.40,-2.99 M-1,17.88 L21.40,-0.04 M-1,20.83 L21.40,2.91 M-1,23.78 L21.40,5.86 M-1,26.73 L21.40,8.81 M-1,29.68 L21.40,11.76 M-1,32.63 L21.40,14.71 M-1,35.58 L21.40,17.66 M-1,38.53 L21.40,20.61 M-1,41.48 L21.40,23.56 M-1,44.43 L21.40,26.51 M-1,47.38 L21.40,29.46 M-1,50.33 L21.40,32.41 M-1,53.28 L21.40,35.36 M-1,56.23 L21.40,38.31 M-1,59.18 L21.40,41.26 M-1,62.13 L21.40,44.21 M-1,65.08 L21.40,47.16 M-1,68.03 L21.40,50.11 M-1,70.98 L21.40,53.06 M-1,73.93 L21.40,56.01 M-1,76.88 L21.40,58.96 M-1,79.83 L21.40,61.91 M-1,82.78 L21.40,64.86 M-1,85.73 L21.40,67.81 M-1,88.68 L21.40,70.76 M-1,91.63 L21.40,73.71 M-1,94.58 L21.40,76.66 M-1,97.53 L21.40,79.61 M-1,100.48 L21.40,82.56 M-1,103.43 L21.40,85.51 M-1,106.38 L21.40,88.46 M-1,109.33 L21.40,91.41 M-1,112.28 L21.40,94.36 M-1,115.23 L21.40,97.31 M-1,118.18 L21.40,100.26" stroke="#000" stroke-width="0.97" fill="none" clip-path="url(#c3_8)"/><rect x="1.00" y="1.00" width="18.40" height="98.20" fill="none" stroke="#000" stroke-width="2.0"/></g>
<path d="M658.60,414.50 V421.00" stroke="#000" stroke-width="2"/>
<text transform="translate(662.10,430.10) rotate(-45)" font-size="10.85" font-weight="bold" text-anchor="end">NCAMB + L</text>
<text x="660.40" y="294.70" font-size="11.8" stroke="#111" stroke-width="0.2" text-anchor="middle">*,#,&</text>
<path d="M394.5,272.60 V414.50 H680" stroke="#000" stroke-width="1.9" fill="none" stroke-linejoin="miter"/>
<path d="M387.80,414.50 H394.5" stroke="#000" stroke-width="1.85"/>
<text x="386.10" y="418.26" font-size="10.5" font-weight="bold" text-anchor="end">0</text>
<path d="M387.80,386.28 H394.5" stroke="#000" stroke-width="1.85"/>
<text x="386.10" y="390.04" font-size="10.5" font-weight="bold" text-anchor="end">5</text>
<path d="M387.80,358.06 H394.5" stroke="#000" stroke-width="1.85"/>
<text x="386.10" y="361.82" font-size="10.5" font-weight="bold" text-anchor="end">10</text>
<path d="M387.80,329.84 H394.5" stroke="#000" stroke-width="1.85"/>
<text x="386.10" y="333.60" font-size="10.5" font-weight="bold" text-anchor="end">15</text>
<path d="M387.80,301.62 H394.5" stroke="#000" stroke-width="1.85"/>
<text x="386.10" y="305.38" font-size="10.5" font-weight="bold" text-anchor="end">20</text>
<path d="M387.80,273.40 H394.5" stroke="#000" stroke-width="1.85"/>
<text x="386.10" y="277.16" font-size="10.5" font-weight="bold" text-anchor="end">25</text>
</g>
</svg></body></html>
